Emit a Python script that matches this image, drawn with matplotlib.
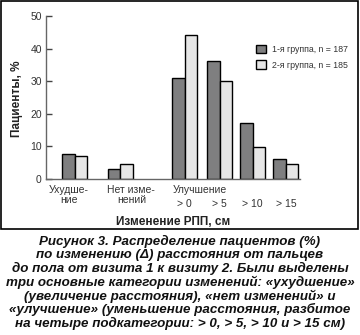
import numpy as np
import matplotlib
matplotlib.use("Agg")
import matplotlib.pyplot as plt
from matplotlib.patches import Rectangle
import matplotlib.transforms as mtransforms

# data
categories = ["Ухудше-\nние", "Нет изме-\nнений", "> 0", "> 5", "> 10", "> 15"]
group1 = [7.6, 3.1, 30.9, 36.2, 17.1, 6.0]
group2 = [7.1, 4.6, 44.2, 30.1, 9.9, 4.5]
legend_labels = ["1-я группа, n = 187", "2-я группа, n = 185"]
yticks = [0, 10, 20, 30, 40, 50]

caption = ("Рисунок 3. Распределение пациентов (%)\n"
           "по изменению (Δ) расстояния от пальцев\n"
           "до пола от визита 1 к визиту 2. Были выделены\n"
           "три основные категории изменений: «ухудшение»\n"
           "(увеличение расстояния), «нет изменений» и\n"
           "«улучшение» (уменьшение расстояния, разбитое\n"
           "на четыре подкатегории: > 0, > 5, > 10 и > 15 см)")

plt.rcParams['font.family'] = ['Liberation Sans', 'DejaVu Sans']

fig = plt.figure(figsize=(3.6, 3.35), dpi=100)
ax = fig.add_axes([0.1278, 0.4657, 0.7056, 0.4866])

# layout: bar group centres
pos = np.array([0, 1.35, 3.27, 4.31, 5.29, 6.28])
label_x = [-0.17, 1.68]
w = 0.37
dark = "#7f7f80"
light = "#e6e6e6"

ax.bar(pos - w / 2, group1, w, color=dark, edgecolor="black", linewidth=1.0,
       label=legend_labels[0])
ax.bar(pos + w / 2, group2, w, color=light, edgecolor="black", linewidth=1.0,
       label=legend_labels[1])

ax.set_xlim(-0.86, 6.70)
ax.set_ylim(0, 50)
ax.set_yticks(yticks)
ax.set_xticks([])
ax.tick_params(axis="y", direction="in", length=4, width=1, color="#444444",
               labelsize=7.5, labelcolor="#333333", pad=3)
for s in ["top", "right"]:
    ax.spines[s].set_visible(False)
for s in ["left", "bottom"]:
    ax.spines[s].set_color("#666666")
    ax.spines[s].set_linewidth(1.0)

# category labels under the axis
trans = mtransforms.blended_transform_factory(ax.transData, ax.transAxes)
for i in range(2):
    ax.text(label_x[i], -0.035, categories[i], transform=trans, ha="center",
            va="top", fontsize=7.5, color="#333333", linespacing=1.0)
ax.text(pos[2] - w, -0.035, "Улучшение", transform=trans, ha="left", va="top",
        fontsize=7.5, color="#333333")
for i in range(2, 6):
    ax.text(pos[i], -0.12, categories[i], transform=trans, ha="center", va="top",
            fontsize=7.5, color="#333333")

ax.text(0.5, -0.23, "Изменение РПП, см", transform=ax.transAxes, ha="center",
        va="top", fontsize=8.5, fontweight="bold", color="#222222")
fig.text(0.048, 0.706, "Пациенты, %", rotation=90, ha="center", va="center",
         fontsize=8.5, fontweight="bold", color="#222222")

ax.legend(loc="upper left", bbox_to_anchor=(0.795, 0.87), frameon=False,
          fontsize=6.3, handlelength=1.2, handleheight=1.1, handletextpad=0.6,
          labelspacing=0.7, labelcolor="#333333")

# frame around the chart
fig.patches.append(Rectangle((0.004, 0.316), 0.991, 0.680, transform=fig.transFigure,
                             fill=False, edgecolor="black", linewidth=1.2))

fig.text(0.5, 0.298, caption, ha="center", va="top", fontsize=9.6,
         fontweight="bold", fontstyle="italic", linespacing=1.07,
         family=["Liberation Sans Narrow", "Liberation Sans"], color="#111111")

fig.savefig("out.png", dpi=100)
